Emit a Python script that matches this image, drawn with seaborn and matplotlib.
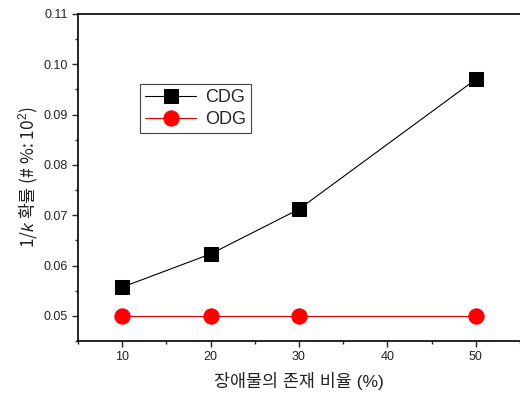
import pandas as pd
import matplotlib
matplotlib.use("Agg")
import matplotlib.pyplot as plt
from matplotlib.ticker import MultipleLocator
import seaborn as sns

ratio = [10, 20, 30, 50]
cdg = [0.0557, 0.0623, 0.0712, 0.0970]
odg = [0.0500, 0.0500, 0.0500, 0.0500]

sns.set_style("ticks")
plt.rcParams['font.family'] = ['Liberation Sans', 'Noto Sans CJK KR', 'DejaVu Sans']
plt.rcParams['mathtext.fontset'] = 'custom'
plt.rcParams['mathtext.it'] = 'Liberation Sans:italic'
plt.rcParams['mathtext.rm'] = 'Liberation Sans'

df = pd.DataFrame({
    'ratio': ratio * 2,
    'value': cdg + odg,
    'series': ['CDG'] * len(ratio) + ['ODG'] * len(ratio),
})

fig = plt.figure(figsize=(5.2, 3.97), dpi=100)
ax = fig.add_axes([0.15, 0.141, 0.85, 0.824])

sns.lineplot(data=df[df.series == 'CDG'], x='ratio', y='value', ax=ax,
             color='black', marker='s', markersize=10, linewidth=0.8,
             markeredgecolor='black', label='CDG')
sns.lineplot(data=df[df.series == 'ODG'], x='ratio', y='value', ax=ax,
             color='#e00000', marker='o', markersize=11, linewidth=0.8,
             markerfacecolor='#ff0000', markeredgecolor='#ff0000', label='ODG')

ax.set_xlim(5, 55)
ax.set_ylim(0.045, 0.11)
ax.xaxis.set_major_locator(MultipleLocator(10))
ax.xaxis.set_minor_locator(MultipleLocator(5))
ax.yaxis.set_major_locator(MultipleLocator(0.01))
ax.yaxis.set_minor_locator(MultipleLocator(0.005))
ax.yaxis.set_major_formatter(matplotlib.ticker.FormatStrFormatter('%.2f'))
ax.tick_params(which='major', direction='out', length=4, width=1, labelsize=9, colors='#222222')
ax.tick_params(which='minor', direction='out', length=2.5, width=1)
ax.spines['right'].set_visible(False)
for s in ['left', 'bottom', 'top']:
    ax.spines[s].set_linewidth(1.2)
    ax.spines[s].set_color('black')

ax.set_xlabel('장애물의 존재 비율 (%)', fontsize=12.5, labelpad=6, color='#222222')
# mathtext takes non-math glyphs from the text's own font, so use the CJK family here
ax.set_ylabel('1/$k$ 확률 (# %: 10$^2$)', fontsize=12.5, labelpad=2,
              family='Noto Sans CJK KR', color='#222222')

leg = ax.legend(loc='upper left', bbox_to_anchor=(0.14, 0.786), fontsize=13,
                fancybox=False, framealpha=1, edgecolor='#444444',
                handlelength=2.8, borderpad=0.3, labelspacing=0.25,
                borderaxespad=0, handletextpad=0.5)
leg.get_frame().set_linewidth(0.8)

fig.savefig('out.png', dpi=100)
